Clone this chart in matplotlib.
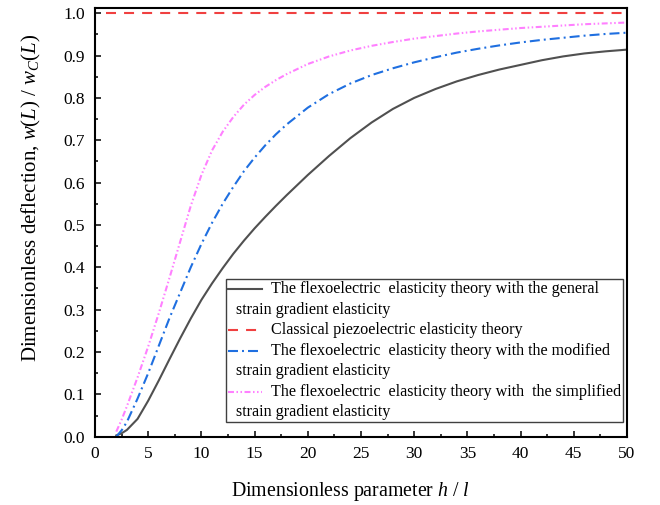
import numpy as np
import matplotlib
matplotlib.use("Agg")
import matplotlib.pyplot as plt
from matplotlib.lines import Line2D
from matplotlib.offsetbox import AnchoredOffsetbox, VPacker, HPacker, TextArea, DrawingArea

plt.rcParams['font.family'] = ['Liberation Serif', 'DejaVu Serif']
plt.rcParams['mathtext.fontset'] = 'custom'
plt.rcParams['mathtext.rm'] = 'Liberation Serif'
plt.rcParams['mathtext.it'] = 'Liberation Serif:italic'
plt.rcParams['lines.scale_dashes'] = False

# ---- data ----
x_vals = [2, 2.5, 3, 4, 5, 6, 7, 8, 9, 10, 11, 12, 13, 14, 15, 16, 17, 18,
          20, 22, 24, 26, 28, 30, 32, 34, 36, 38, 40, 42, 44, 46, 48, 50]
general = [0.003, 0.008, 0.016, 0.042, 0.085, 0.133, 0.183, 0.232, 0.279, 0.323,
           0.362, 0.398, 0.432, 0.463, 0.492, 0.519, 0.545, 0.570,
           0.618, 0.663, 0.705, 0.742, 0.774, 0.800, 0.821, 0.839, 0.854,
           0.867, 0.878, 0.889, 0.898, 0.905, 0.910, 0.914]
modified = [0.0, 0.015, 0.035, 0.090, 0.150, 0.215, 0.280, 0.340, 0.400, 0.455,
            0.505, 0.550, 0.590, 0.627, 0.659, 0.688, 0.714, 0.737,
            0.777, 0.809, 0.834, 0.854, 0.870, 0.884, 0.896, 0.907, 0.916,
            0.924, 0.931, 0.937, 0.942, 0.947, 0.951, 0.954]
simplified = [0.012, 0.040, 0.072, 0.140, 0.213, 0.292, 0.375, 0.460, 0.545, 0.618,
              0.676, 0.720, 0.755, 0.784, 0.807, 0.826, 0.842, 0.856,
              0.880, 0.898, 0.912, 0.923, 0.932, 0.940, 0.946, 0.952, 0.957,
              0.961, 0.965, 0.968, 0.971, 0.974, 0.976, 0.978]
classical_x = [1, 50]
classical = [1.0, 1.0]

x_ticks = [0, 5, 10, 15, 20, 25, 30, 35, 40, 45, 50]
y_ticks = [0.0, 0.1, 0.2, 0.3, 0.4, 0.5, 0.6, 0.7, 0.8, 0.9, 1.0]

labels = [
    ("The flexoelectric  elasticity theory with the general", "strain gradient elasticity"),
    ("Classical piezoelectric elasticity theory", None),
    ("The flexoelectric  elasticity theory with the modified", "strain gradient elasticity"),
    ("The flexoelectric  elasticity theory with  the simplified", "strain gradient elasticity"),
]

c_black = '#505050'
c_red = '#F04040'
c_blue = '#1F6FE0'
c_pink = '#FF80FF'
ls_black = '-'
ls_red = (0, (7.2, 5.8))
ls_blue = (0, (7.2, 2.9, 1.4, 2.9))
ls_pink = (0, (4.3, 1.8, 1.1, 1.8, 1.1, 1.8))
lw = 1.5

fig = plt.figure(figsize=(6.6, 5.05), dpi=100)
ax = fig.add_axes([95/660, 1-436.7/505, (627-95)/660, (436.7-8.3)/505])

ax.plot(x_vals, general, color=c_black, ls=ls_black, lw=lw)
ax.plot(classical_x, classical, color=c_red, ls=ls_red, lw=lw)
ax.plot(x_vals, modified, color=c_blue, ls=ls_blue, lw=lw)
ax.plot(x_vals, simplified, color=c_pink, ls=ls_pink, lw=lw)

ax.set_xlim(0, 50)
ax.set_ylim(0, 1.0116)
ax.set_xticks(x_ticks)
ax.set_xticklabels([str(v) for v in x_ticks])
ax.set_yticks(y_ticks)
ax.set_yticklabels([f"{v:.1f}" for v in y_ticks])
ax.set_xticks(np.arange(2.5, 50, 5), minor=True)
ax.set_yticks(np.arange(0.05, 1.0, 0.1), minor=True)
ax.tick_params(which='both', direction='in', top=False, right=False, width=1.1,
               labelsize=12.5, pad=7)
ax.tick_params(which='major', length=4.3)
ax.tick_params(which='minor', length=2.2)
for s in ax.spines.values():
    s.set_linewidth(1.5)

ax.set_xlabel(r"Dimensionless parameter $h$ / $l$", fontsize=14.3)
ax.set_ylabel(r"Dimensionless deflection, $w(L)$ / $w_C(L)$", fontsize=15)
ax.xaxis.set_label_coords(0.481, -0.100)
ax.yaxis.set_label_coords(-0.097, 0.557)

# ---- legend ----
fs = 11.6
handle_specs = [(c_black, ls_black), (c_red, ls_red), (c_blue, ls_blue), (c_pink, ls_pink)]
rows = []
for (first, second), (col, ls) in zip(labels, handle_specs):
    da = DrawingArea(24.5, 8, 0, 0)
    da.add_artist(Line2D([0, 24.5], [4, 4], color=col, ls=ls, lw=lw))
    ta = TextArea(first, textprops=dict(fontsize=fs))
    rows.append(HPacker(children=[da, ta], sep=6.7, align='center', pad=0))
    if second is not None:
        pad_da = DrawingArea(6, 1, 0, 0)
        ta2 = TextArea(second, textprops=dict(fontsize=fs))
        rows.append(HPacker(children=[pad_da, ta2], sep=0, align='center', pad=0))
vbox = VPacker(children=rows, sep=3.3, align='left', pad=0)
box = AnchoredOffsetbox(loc='upper left', child=vbox, pad=0.12, borderpad=0,
                        frameon=True, bbox_to_anchor=(226/660, 1-279/505),
                        bbox_transform=fig.transFigure, prop=dict(size=fs))
box.patch.set_edgecolor('#404040')
box.patch.set_linewidth(1.0)
box.patch.set_boxstyle('square', pad=0)
ax.add_artist(box)

fig.savefig('out.png', dpi=100)
